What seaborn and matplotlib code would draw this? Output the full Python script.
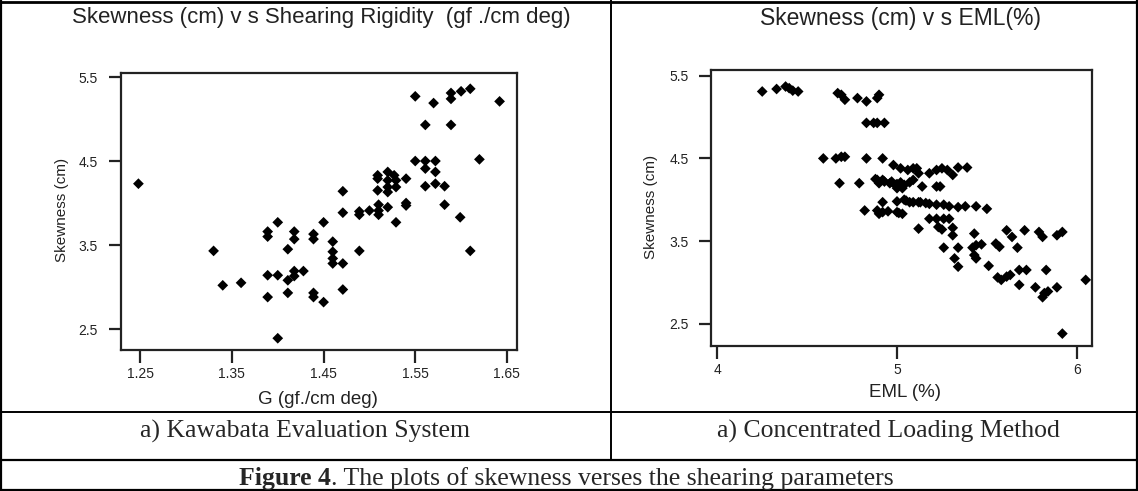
import matplotlib
matplotlib.use('Agg')
import matplotlib.pyplot as plt
from matplotlib.lines import Line2D
import pandas as pd
import seaborn as sns

# a) Kawabata: shearing rigidity G (gf./cm deg) vs skewness (cm)
g_values = [1.248, 1.330, 1.340, 1.360,
            1.389, 1.389, 1.389, 1.389, 1.400, 1.400, 1.400,
            1.411, 1.411, 1.411, 1.418, 1.418, 1.418, 1.418, 1.428,
            1.439, 1.439, 1.439, 1.439, 1.450, 1.450,
            1.460, 1.460, 1.460, 1.460, 1.471, 1.471, 1.471, 1.471,
            1.489, 1.489, 1.489, 1.500,
            1.510, 1.510, 1.510, 1.509, 1.509, 1.509,
            1.520, 1.520, 1.520, 1.520, 1.520,
            1.527, 1.529, 1.529, 1.529, 1.540, 1.540, 1.540,
            1.550, 1.550, 1.561, 1.572, 1.561, 1.572, 1.561, 1.561, 1.572,
            1.582, 1.582, 1.570, 1.589, 1.589, 1.589, 1.600, 1.599,
            1.610, 1.610, 1.620, 1.642]
g_skewness = [4.23, 3.43, 3.02, 3.05,
              3.66, 3.60, 3.14, 2.88, 3.77, 3.14, 2.39,
              3.45, 3.08, 2.93, 3.66, 3.57, 3.19, 3.13, 3.19,
              3.63, 3.57, 2.93, 2.88, 3.77, 2.82,
              3.54, 3.42, 3.34, 3.28, 4.14, 3.885, 3.28, 2.97,
              3.90, 3.86, 3.43, 3.91,
              3.98, 3.91, 3.86, 4.33, 4.29, 4.15,
              3.95, 4.37, 4.27, 4.19, 4.13,
              4.33, 4.27, 4.19, 3.77, 4.29, 4.00, 3.97,
              5.27, 4.50, 4.50, 4.50, 4.41, 4.37, 4.93, 4.20, 4.23,
              4.20, 3.98, 5.19, 5.31, 5.24, 4.93, 5.33, 3.83,
              5.36, 3.43, 4.52, 5.21]

# b) Concentrated loading: EML (%) vs skewness (cm)
eml_values = [4.25, 4.33, 4.38, 4.40, 4.42, 4.45,
              4.67, 4.69, 4.71, 4.78, 4.83, 4.89, 4.90,
              4.83, 4.87, 4.89, 4.93,
              4.59, 4.66, 4.69, 4.71, 4.83, 4.92,
              4.68, 4.79,
              4.98, 5.02, 5.06, 5.09, 5.11, 5.12, 5.18, 5.22, 5.25, 5.28, 5.31, 5.34, 5.39,
              4.88, 4.89, 4.90, 4.92, 4.93, 4.96, 4.97, 4.99, 5.00, 5.02, 5.04, 5.07, 5.09,
              5.00, 5.03, 5.14, 5.22, 5.24,
              4.92, 5.00, 5.04, 5.05, 5.07, 5.09, 5.12, 5.13, 5.16, 5.18, 5.22, 5.26, 5.29,
              5.34, 5.38, 5.44, 5.50,
              4.82, 4.89, 4.90, 4.92, 4.95, 5.00, 5.01, 5.03,
              5.18, 5.22, 5.26, 5.29,
              5.12, 5.23, 5.25, 5.31, 5.31, 5.43, 5.61, 5.64, 5.71, 5.79, 5.81, 5.89, 5.92,
              5.26, 5.34, 5.42, 5.44, 5.47, 5.43, 5.44, 5.55, 5.57, 5.67,
              5.32, 5.34, 5.51,
              5.56, 5.58, 5.61, 5.63, 5.68, 5.72, 5.83, 5.68, 5.77, 5.89, 5.81, 5.82, 5.84,
              6.05, 5.92]
eml_skewness = [5.31, 5.34, 5.37, 5.35, 5.32, 5.31,
                5.29, 5.27, 5.21, 5.23, 5.19, 5.23, 5.27,
                4.93, 4.93, 4.93, 4.93,
                4.50, 4.50, 4.52, 4.52, 4.50, 4.50,
                4.20, 4.20,
                4.42, 4.38, 4.36, 4.38, 4.38, 4.32, 4.32, 4.36, 4.38, 4.36, 4.30, 4.39, 4.39,
                4.25, 4.24, 4.20, 4.24, 4.22, 4.20, 4.22, 4.18, 4.19, 4.21, 4.18, 4.21, 4.24,
                4.14, 4.14, 4.16, 4.16, 4.16,
                3.97, 3.98, 4.00, 3.99, 3.97, 3.97, 3.97, 3.97, 3.96, 3.95, 3.94, 3.94, 3.92,
                3.91, 3.92, 3.92, 3.89,
                3.87, 3.87, 3.83, 3.85, 3.86, 3.85, 3.84, 3.83,
                3.77, 3.77, 3.77, 3.77,
                3.65, 3.67, 3.64, 3.66, 3.57, 3.59, 3.63, 3.55, 3.63, 3.61, 3.55, 3.57, 3.61,
                3.42, 3.42, 3.42, 3.45, 3.46, 3.33, 3.29, 3.47, 3.43, 3.42,
                3.29, 3.19, 3.20,
                3.06, 3.03, 3.07, 3.09, 3.15, 3.15, 3.15, 2.97, 2.94, 2.94, 2.82, 2.87, 2.89,
                3.03, 2.38]

g_ticks = [1.25, 1.35, 1.45, 1.55, 1.65]
eml_ticks = [4, 5, 6]
skew_ticks = [2.5, 3.5, 4.5, 5.5]

W, H = 1138, 491


def fx(x):
    return x / W


def fy(y):
    return 1 - y / H


sns.set_style('white')
plt.rcParams['font.family'] = ['Liberation Sans', 'DejaVu Sans']

fig = plt.figure(figsize=(W / 100, H / 100), dpi=100)
ax1 = fig.add_axes([fx(121), fy(350), 396 / W, 277 / H])
ax2 = fig.add_axes([fx(711), fy(346), 381 / W, 276 / H])

df1 = pd.DataFrame({'G': g_values, 'Skewness': g_skewness})
df2 = pd.DataFrame({'EML': eml_values, 'Skewness': eml_skewness})

sns.scatterplot(data=df1, x='G', y='Skewness', ax=ax1, marker='D', s=30,
                color='black', edgecolor='none')
sns.scatterplot(data=df2, x='EML', y='Skewness', ax=ax2, marker='D', s=30,
                color='black', edgecolor='none')


def style_axes(ax, xticks, xlim, ylim, xlabel, xlab_pos, ylab_pos, ypad):
    ax.set_xlim(*xlim)
    ax.set_ylim(*ylim)
    ax.set_xticks(xticks)
    ax.set_xticklabels([str(t) for t in xticks])
    ax.set_yticks(skew_ticks)
    ax.set_yticklabels([str(t) for t in skew_ticks])
    for sp in ax.spines.values():
        sp.set_visible(True)
        sp.set_linewidth(1.6)
        sp.set_color('#222222')
    ax.tick_params(axis='both', direction='out', length=9, width=1.6,
                   bottom=True, left=True, top=False, right=False,
                   color='#222222', labelsize=10, labelcolor='#222222')
    ax.tick_params(axis='y', pad=ypad)
    ax.tick_params(axis='x', pad=3)
    ax.set_xlabel(xlabel, fontsize=13.5, color='#222222', va='center')
    ax.set_ylabel('Skewness (cm)', fontsize=11, color='#222222', va='center')
    ax.xaxis.set_label_coords(*xlab_pos)
    ax.yaxis.set_label_coords(*ylab_pos)


style_axes(ax1, g_ticks, (1.229, 1.661), (2.25, 5.548), 'G (gf./cm deg)',
           (0.497, -0.177), (-0.149, 0.505), 8)
style_axes(ax2, eml_ticks, (3.965, 6.085), (2.23, 5.57), 'EML (%)',
           (0.509, -0.167), (-0.157, 0.505), 7)

# chart titles
fig.text(fx(321), fy(18), 'Skewness (cm) v s Shearing Rigidity  (gf ./cm deg)',
         ha='center', va='center', fontsize=16, color='#222222')
fig.text(fx(900), fy(18), 'Skewness (cm) v s EML(%)',
         ha='center', va='center', fontsize=16.5, color='#222222')


# table frame
def hline(y, x0, x1, lw):
    fig.add_artist(Line2D([fx(x0), fx(x1)], [fy(y), fy(y)], color='black', lw=lw))


def vline(x, y0, y1, lw):
    fig.add_artist(Line2D([fx(x), fx(x)], [fy(y0), fy(y1)], color='black', lw=lw))


hline(2, 0, W, 2.0)
hline(412, 0, W, 1.4)
hline(460, 0, W, 1.6)
hline(489.5, 0, W, 1.6)
vline(1, 0, H, 1.6)
vline(1136.5, 0, H, 1.6)
vline(611, 0, 460, 1.4)

serif = ['Liberation Serif', 'DejaVu Serif']
fig.text(fx(305), fy(438), 'a) Kawabata Evaluation System', family=serif,
         ha='center', va='baseline', fontsize=18.5)
fig.text(fx(888), fy(438), 'a) Concentrated Loading Method', family=serif,
         ha='center', va='baseline', fontsize=18.5)
t1 = fig.text(fx(239), fy(485), 'Figure 4', family=serif, weight='bold',
              ha='left', va='baseline', fontsize=18.5)
fig.canvas.draw()
bb = t1.get_window_extent(fig.canvas.get_renderer())
fig.text(bb.x1 / fig.bbox.width, fy(485),
         '. The plots of skewness verses the shearing parameters',
         family=serif, ha='left', va='baseline', fontsize=18.5)

fig.savefig('out.png', dpi=100)
